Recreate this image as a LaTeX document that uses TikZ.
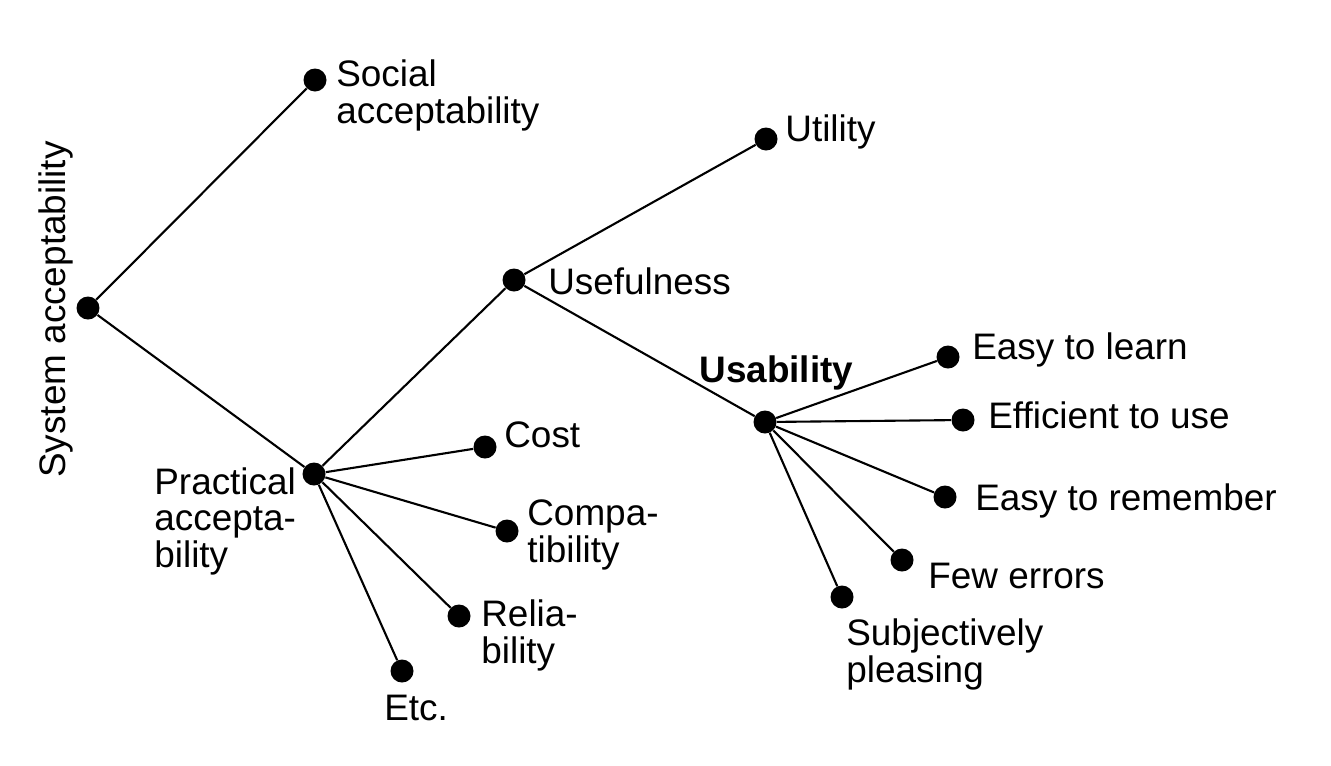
\documentclass[tikz,border=0pt]{standalone}
\usepackage{fontspec}
\setmainfont{Liberation Sans}
\begin{document}
\begin{tikzpicture}[x=0.02cm,y=-0.02cm,
  dot/.style={circle,fill=black,inner sep=0pt,minimum size=0.46cm},
  lbl/.style={anchor=base west,inner sep=0pt,align=left,font=\fontsize{21}{20.5}\selectfont},
  branch/.style={line width=1.2pt}]
\useasboundingbox (0,0) rectangle (1331,765);

%dots
\node[dot] (system) at (88,308) {};
\node[dot] (social) at (315,80) {};
\node[dot] (practical) at (314,474) {};
\node[dot] (usefulness) at (514,280) {};
\node[dot] (utility) at (766,139) {};
\node[dot] (usability) at (765,422) {};
\node[dot] (cost) at (485,447) {};
\node[dot] (compat) at (507,531) {};
\node[dot] (reliab) at (459,616) {};
\node[dot] (etc) at (402,671) {};
\node[dot] (learn) at (948,357) {};
\node[dot] (efficient) at (963,420) {};
\node[dot] (remember) at (945,497) {};
\node[dot] (errors) at (902,560) {};
\node[dot] (pleasing) at (842,597) {};

%labels (base = last line)
\node[lbl,rotate=90] (systemtext) at (65,478) {System acceptability};
\node[lbl] (socialtext) at (336,123) {Social\\acceptability};
\node[lbl] (practicaltext) at (154,567) {Practical\\accepta-\\bility};
\node[lbl] (usefulnesstext) at (548,294) {Usefulness};
\node[lbl] (utilitytext) at (785,141) {Utility};
\node[lbl,font=\fontsize{21}{20.5}\selectfont\bfseries] (usabilitytext) at (699,382) {Usability};
\node[lbl] (costtext) at (504,447) {Cost};
\node[lbl] (compattext) at (527,562) {Compa-\\tibility};
\node[lbl] (reliabtext) at (481,663) {Relia-\\bility};
\node[lbl] (etctext) at (384,720) {Etc.};
\node[lbl] (learntext) at (972,359) {Easy to learn};
\node[lbl] (efficienttext) at (988,428) {Efficient to use};
\node[lbl] (remembertext) at (975,510) {Easy to remember};
\node[lbl] (errorstext) at (928,588) {Few errors};
\node[lbl] (pleasingtext) at (846,682) {Subjectively\\pleasing};

%branches
\draw[branch] (system) -- (social) (system) -- (practical);
\draw[branch] (practical) -- (usefulness);
\draw[branch] (practical) -- (cost) (practical) -- (compat);
\draw[branch] (practical) -- (reliab) (practical) -- (etc);
\draw[branch] (usefulness) -- (utility) (usefulness) -- (usability);
\draw[branch] (usability) -- (learn) (usability) -- (efficient);
\draw[branch] (usability) -- (remember) (usability) -- (errors);
\draw[branch] (usability) -- (pleasing);

\end{tikzpicture}
\end{document}
